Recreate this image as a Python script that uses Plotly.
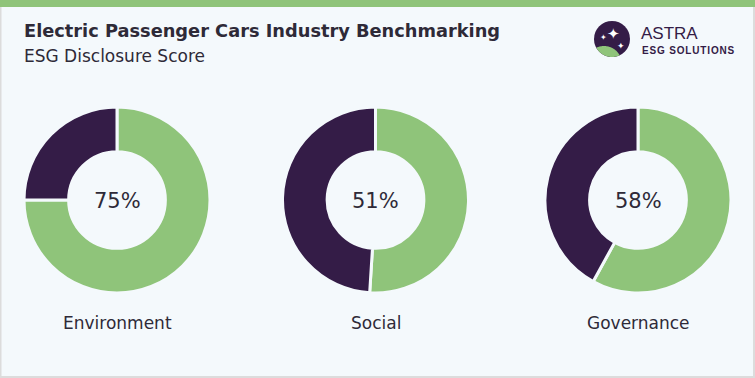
import numpy as np
import plotly.graph_objects as go

categories = ["Environment", "Social", "Governance"]
scores = [75, 51, 58]
title = "Electric Passenger Cars Industry Benchmarking"
subtitle = "ESG Disclosure Score"

W, H = 755, 378
BG = "#f4f9fc"
GREEN = "#8fc47a"
DARK = "#341c47"
TEXT = "#2e2a38"
FONT = "DejaVu Sans, Liberation Sans, Arial"

fig = go.Figure()

centers_x = [117, 375.5, 638]
cy = 200
R = 93


def px(x):
    return x / W


def py(y):
    return 1 - y / H


def note(x, y, text, size, color=TEXT, family=FONT, weight="normal", xanchor="center"):
    fig.add_annotation(x=px(x), y=py(y), xref="paper", yref="paper", text=text,
                       showarrow=False, xanchor=xanchor, yanchor="middle",
                       font=dict(family=family, size=size, color=color, weight=weight))


for cat, s, cx in zip(categories, scores, centers_x):
    fig.add_trace(go.Pie(
        values=[s, 100 - s],
        labels=["Disclosed", "Not disclosed"],
        marker=dict(colors=[GREEN, DARK], line=dict(color=BG, width=3)),
        hole=0.52,
        sort=False,
        direction="clockwise",
        rotation=0,
        textinfo="none",
        hoverinfo="label+percent",
        showlegend=False,
        domain=dict(x=[px(cx - R), px(cx + R)], y=[py(cy + R), py(cy - R)]),
    ))
    note(cx, cy + 1, f"{s}%", 21)
    note(cx, 323, cat, 17)

shapes = []
# top bar
shapes.append(dict(type="rect", xref="paper", yref="paper", x0=0, x1=1, y0=py(7), y1=1,
                   fillcolor=GREEN, line=dict(width=0), layer="above"))
# border
shapes.append(dict(type="line", xref="paper", yref="paper", x0=px(0.75), x1=px(0.75), y0=0, y1=py(7),
                   line=dict(color="#dcdcdc", width=1.5)))
shapes.append(dict(type="line", xref="paper", yref="paper", x0=px(W - 1), x1=px(W - 1), y0=0, y1=py(7),
                   line=dict(color="#dcdcdc", width=2)))
shapes.append(dict(type="line", xref="paper", yref="paper", x0=0, x1=1, y0=py(H - 1), y1=py(H - 1),
                   line=dict(color="#dcdcdc", width=2)))

# logo circle
lx, ly, lr = 612, 39, 18
shapes.append(dict(type="circle", xref="paper", yref="paper",
                   x0=px(lx - lr), x1=px(lx + lr), y0=py(ly + lr), y1=py(ly - lr),
                   fillcolor=DARK, line=dict(width=0)))
# green hill: intersection of logo circle with a circle centred below-left
gx, gy, gr = 604, 64, 18
th = np.linspace(-np.pi, np.pi, 361)
pts = []
for t in th:
    x1, y1 = gx + gr * np.cos(t), gy + gr * np.sin(t)
    if (x1 - lx) ** 2 + (y1 - ly) ** 2 <= lr ** 2:
        pts.append((x1, y1))
    x2, y2 = lx + lr * np.cos(t), ly + lr * np.sin(t)
    if (x2 - gx) ** 2 + (y2 - gy) ** 2 <= gr ** 2:
        pts.append((x2, y2))
cxm = np.mean([p[0] for p in pts])
cym = np.mean([p[1] for p in pts])
pts = sorted(pts, key=lambda p: np.arctan2(p[1] - cym, p[0] - cxm))
path = "M " + " L ".join(f"{px(p[0]):.5f},{py(p[1]):.5f}" for p in pts) + " Z"
shapes.append(dict(type="path", xref="paper", yref="paper", path=path,
                   fillcolor=GREEN, line=dict(width=0)))

fig.update_layout(shapes=shapes)

# stars
for sx, sy, ss in [(613, 34, 15), (603, 37, 8), (621, 46, 9)]:
    note(sx, sy, "✦", ss, color="white", family="DejaVu Sans")

note(639, 33, "ASTRA", 17, color=DARK, family="Liberation Sans, Arial", xanchor="left")
note(640, 51, "\u200a".join("ESG SOLUTIONS"), 10, color=DARK,
     family="Liberation Sans, Arial", weight="bold", xanchor="left")

note(22, 31, f"<b>{title}</b>", 17.8, family="DejaVu Sans", weight="bold", xanchor="left")
note(22, 56, subtitle, 17, xanchor="left")

fig.update_layout(width=W, height=H, margin=dict(l=0, r=0, t=0, b=0),
                  paper_bgcolor=BG, plot_bgcolor=BG)

fig.write_html("out.html", config={"displayModeBar": False},
               post_script="document.body.style.margin='0';document.body.style.padding='0';"
                           "document.body.style.overflow='hidden';")
